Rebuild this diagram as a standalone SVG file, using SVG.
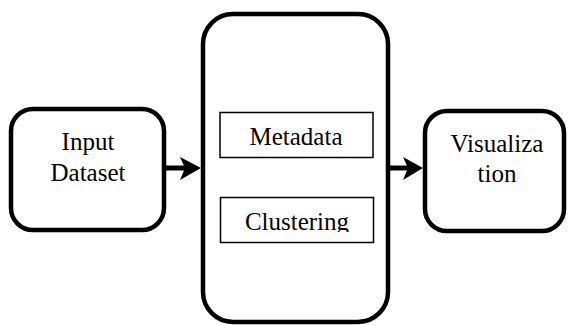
<svg xmlns="http://www.w3.org/2000/svg" width="574" height="325" viewBox="0 0 574 325">
<style>
.big{fill:#fff;stroke:#000;stroke-width:4.5}
.sub{fill:#fff;stroke:#000;stroke-width:1.5}
text{font-family:"Liberation Serif","Times New Roman",serif;font-size:25px;fill:#000;text-anchor:middle}
.conn{stroke:#000;stroke-width:5;fill:none}
</style>
<defs>
<clipPath id="clipC"><rect x="221" y="198" width="152" height="34"/></clipPath>
</defs>
<g id="input">
<rect class="big" x="11" y="109" width="153" height="121" rx="22"/>
<text x="88" y="150">Input</text>
<text x="88" y="181">Dataset</text>
</g>
<g id="process">
<rect class="big" x="203" y="14" width="185" height="308" rx="30"/>
</g>
<g id="metadata">
<rect class="sub" x="220" y="112.5" width="153" height="45"/>
<text x="296" y="145">Metadata</text>
</g>
<g id="clustering">
<rect class="sub" x="220.5" y="197.5" width="153" height="45"/>
<text x="297" y="230" clip-path="url(#clipC)">Clustering</text>
</g>
<g id="visualization">
<rect class="big" x="425" y="111" width="139" height="120" rx="22"/>
<text x="497" y="152">Visualiza</text>
<text x="497" y="182">tion</text>
</g>
<g id="connectors">
<line class="conn" x1="164" y1="168" x2="186" y2="168"/>
<polygon points="180,157 201,168 180,180 185,168"/>
<line class="conn" x1="388" y1="168" x2="409" y2="168"/>
<polygon points="403,157 423,168 403,180 408,168"/>
</g>
</svg>
